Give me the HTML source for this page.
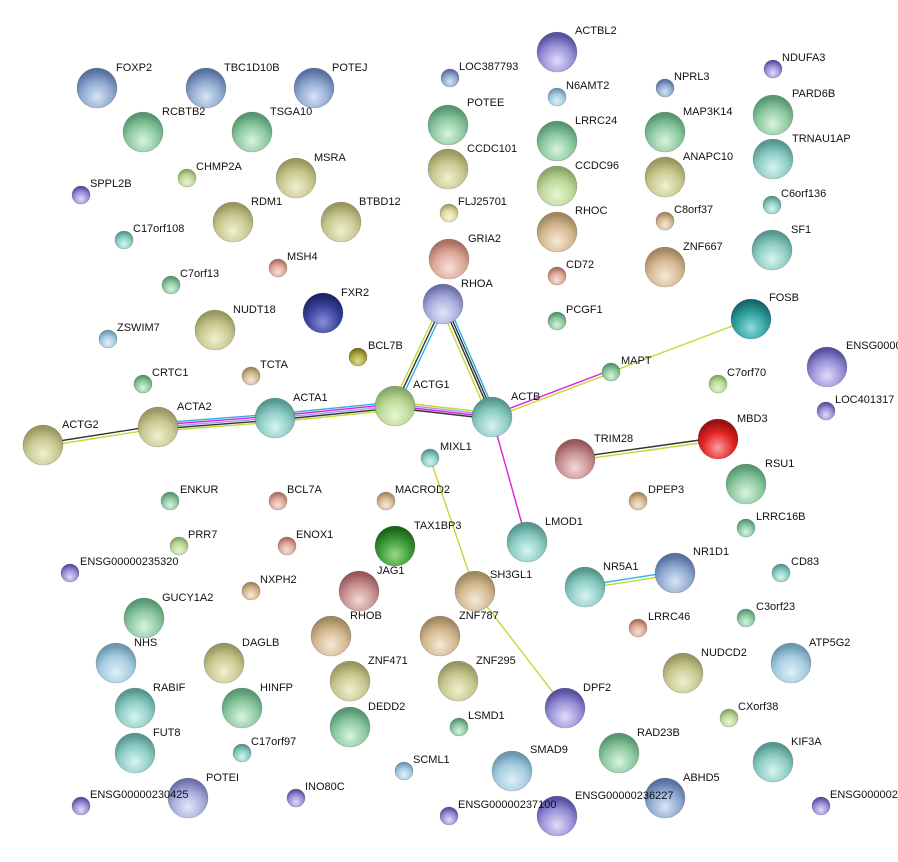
<!DOCTYPE html>
<html><head><meta charset="utf-8"><style>
html,body{margin:0;padding:0;background:#fff}
svg{display:block}
text{font-family:"Liberation Sans",sans-serif;font-size:11px;fill:#111}
</style></head><body>
<svg width="898" height="862" viewBox="0 0 898 862" xmlns="http://www.w3.org/2000/svg">
<defs>
<radialGradient id="gl" cx="0.5" cy="0.15" r="0.6"><stop offset="0" stop-color="#fff" stop-opacity="0.85"/><stop offset="0.6" stop-color="#fff" stop-opacity="0.15"/><stop offset="1" stop-color="#fff" stop-opacity="0"/></radialGradient>
<radialGradient id="blue" cx="0.5" cy="0.72" r="0.65"><stop offset="0" stop-color="#d8e4f4"/><stop offset="0.6" stop-color="#8ea8d0"/><stop offset="1" stop-color="#5670a0"/></radialGradient>
<radialGradient id="green" cx="0.5" cy="0.72" r="0.65"><stop offset="0" stop-color="#d8f4e0"/><stop offset="0.6" stop-color="#8cc8a0"/><stop offset="1" stop-color="#569870"/></radialGradient>
<radialGradient id="teal" cx="0.5" cy="0.72" r="0.65"><stop offset="0" stop-color="#d8f4f0"/><stop offset="0.6" stop-color="#8cccc4"/><stop offset="1" stop-color="#569890"/></radialGradient>
<radialGradient id="olive" cx="0.5" cy="0.72" r="0.65"><stop offset="0" stop-color="#f0f0d0"/><stop offset="0.6" stop-color="#c8c890"/><stop offset="1" stop-color="#989860"/></radialGradient>
<radialGradient id="ygreen" cx="0.5" cy="0.72" r="0.65"><stop offset="0" stop-color="#eaf6d4"/><stop offset="0.6" stop-color="#bcd898"/><stop offset="1" stop-color="#88a868"/></radialGradient>
<radialGradient id="tan" cx="0.5" cy="0.72" r="0.65"><stop offset="0" stop-color="#f6ead8"/><stop offset="0.6" stop-color="#d4b890"/><stop offset="1" stop-color="#a08860"/></radialGradient>
<radialGradient id="salmon" cx="0.5" cy="0.72" r="0.65"><stop offset="0" stop-color="#f8e0d8"/><stop offset="0.6" stop-color="#dca898"/><stop offset="1" stop-color="#a87060"/></radialGradient>
<radialGradient id="rose" cx="0.5" cy="0.72" r="0.65"><stop offset="0" stop-color="#f4d8d8"/><stop offset="0.6" stop-color="#c89090"/><stop offset="1" stop-color="#985858"/></radialGradient>
<radialGradient id="purple" cx="0.5" cy="0.72" r="0.65"><stop offset="0" stop-color="#e0dcf8"/><stop offset="0.6" stop-color="#9890d8"/><stop offset="1" stop-color="#5850a0"/></radialGradient>
<radialGradient id="lav" cx="0.5" cy="0.72" r="0.65"><stop offset="0" stop-color="#e4e6f8"/><stop offset="0.6" stop-color="#a8acdc"/><stop offset="1" stop-color="#6c70a8"/></radialGradient>
<radialGradient id="lblue" cx="0.5" cy="0.72" r="0.65"><stop offset="0" stop-color="#e0f0f8"/><stop offset="0.6" stop-color="#a4cce0"/><stop offset="1" stop-color="#6c98b0"/></radialGradient>
<radialGradient id="dblue" cx="0.5" cy="0.72" r="0.65"><stop offset="0" stop-color="#8890d8"/><stop offset="0.6" stop-color="#3c44a0"/><stop offset="1" stop-color="#1c2468"/></radialGradient>
<radialGradient id="dgreen" cx="0.5" cy="0.72" r="0.65"><stop offset="0" stop-color="#98dc88"/><stop offset="0.6" stop-color="#3c9a38"/><stop offset="1" stop-color="#1c6418"/></radialGradient>
<radialGradient id="dteal" cx="0.5" cy="0.72" r="0.65"><stop offset="0" stop-color="#90dcd8"/><stop offset="0.6" stop-color="#30a0a0"/><stop offset="1" stop-color="#186868"/></radialGradient>
<radialGradient id="red" cx="0.5" cy="0.72" r="0.65"><stop offset="0" stop-color="#ff9c9c"/><stop offset="0.6" stop-color="#e02424"/><stop offset="1" stop-color="#981010"/></radialGradient>
<radialGradient id="dolive" cx="0.5" cy="0.72" r="0.65"><stop offset="0" stop-color="#e0dc98"/><stop offset="0.6" stop-color="#b0a840"/><stop offset="1" stop-color="#787020"/></radialGradient>
<radialGradient id="yel" cx="0.5" cy="0.72" r="0.65"><stop offset="0" stop-color="#f8f4d8"/><stop offset="0.6" stop-color="#e0d8a0"/><stop offset="1" stop-color="#a8a068"/></radialGradient>
</defs>

<!-- edges -->
<g fill="none" stroke-width="1.4">
<line x1="43" y1="443.5" x2="158" y2="425.5" stroke="#333"/>
<line x1="43" y1="446.5" x2="158" y2="428.5" stroke="#c4d830"/>
<g>
<line x1="158" y1="423" x2="275" y2="414" stroke="#2ab4e0"/>
<line x1="158" y1="425" x2="275" y2="416" stroke="#e020d8"/>
<line x1="158" y1="427" x2="275" y2="418" stroke="#a0a0f0"/>
<line x1="158" y1="429" x2="275" y2="420" stroke="#333"/>
<line x1="158" y1="431" x2="275" y2="422" stroke="#c4d830"/>
</g>
<g>
<line x1="275" y1="414" x2="395" y2="402" stroke="#2ab4e0"/>
<line x1="275" y1="416" x2="395" y2="404" stroke="#e020d8"/>
<line x1="275" y1="418" x2="395" y2="406" stroke="#a0a0f0"/>
<line x1="275" y1="420" x2="395" y2="408" stroke="#333"/>
<line x1="275" y1="422" x2="395" y2="410" stroke="#c4d830"/>
</g>
<line x1="395" y1="402" x2="492" y2="413" stroke="#c4d830"/>
<line x1="395" y1="404" x2="492" y2="415" stroke="#a0a0f0"/>
<line x1="395" y1="406" x2="492" y2="417" stroke="#e020d8"/>
<line x1="395" y1="408" x2="492" y2="419" stroke="#333"/>
<line x1="440" y1="304" x2="392" y2="406" stroke="#c4d830"/>
<line x1="443" y1="304" x2="395" y2="406" stroke="#333"/>
<line x1="446" y1="304" x2="398" y2="406" stroke="#2ab4e0"/>
<line x1="440" y1="305" x2="489" y2="418" stroke="#c4d830"/>
<line x1="443" y1="304" x2="492" y2="417" stroke="#333"/>
<line x1="445" y1="303" x2="494" y2="416" stroke="#333"/>
<line x1="447" y1="302" x2="496" y2="415" stroke="#2ab4e0"/>
<line x1="492" y1="415" x2="611" y2="370" stroke="#e020d8"/>
<line x1="492" y1="418" x2="611" y2="373" stroke="#c4d830"/>
<line x1="611" y1="372" x2="751" y2="319" stroke="#c4d830"/>
<line x1="492" y1="417" x2="527" y2="542" stroke="#e020d8"/>
<line x1="575" y1="457.5" x2="718" y2="437.5" stroke="#333"/>
<line x1="575" y1="460.5" x2="718" y2="440.5" stroke="#c4d830"/>
<line x1="585" y1="585.5" x2="675" y2="571.5" stroke="#2ab4e0"/>
<line x1="585" y1="588.5" x2="675" y2="574.5" stroke="#c4d830"/>
<line x1="430" y1="458" x2="475" y2="591" stroke="#c4d830"/>
<line x1="475" y1="591" x2="565" y2="708" stroke="#c4d830"/>
</g>

<!-- nodes -->
<g stroke="rgba(0,0,0,0.25)" stroke-width="0.6">
<circle cx="97" cy="88" r="20" fill="url(#blue)"/>
<circle cx="206" cy="88" r="20" fill="url(#blue)"/>
<circle cx="314" cy="88" r="20" fill="url(#blue)"/>
<circle cx="143" cy="132" r="20" fill="url(#green)"/>
<circle cx="252" cy="132" r="20" fill="url(#green)"/>
<circle cx="187" cy="178" r="9" fill="url(#ygreen)"/>
<circle cx="296" cy="178" r="20" fill="url(#olive)"/>
<circle cx="81" cy="195" r="9" fill="url(#purple)"/>
<circle cx="233" cy="222" r="20" fill="url(#olive)"/>
<circle cx="341" cy="222" r="20" fill="url(#olive)"/>
<circle cx="124" cy="240" r="9" fill="url(#teal)"/>
<circle cx="278" cy="268" r="9" fill="url(#salmon)"/>
<circle cx="171" cy="285" r="9" fill="url(#green)"/>
<circle cx="323" cy="313" r="20" fill="url(#dblue)"/>
<circle cx="215" cy="330" r="20" fill="url(#olive)"/>
<circle cx="108" cy="339" r="9" fill="url(#lblue)"/>
<circle cx="358" cy="357" r="9" fill="url(#dolive)"/>
<circle cx="251" cy="376" r="9" fill="url(#tan)"/>
<circle cx="143" cy="384" r="9" fill="url(#green)"/>
<circle cx="43" cy="445" r="20" fill="url(#olive)"/>
<circle cx="158" cy="427" r="20" fill="url(#olive)"/>
<circle cx="275" cy="418" r="20" fill="url(#teal)"/>
<circle cx="395" cy="406" r="20" fill="url(#ygreen)"/>
<circle cx="492" cy="417" r="20" fill="url(#teal)"/>
<circle cx="443" cy="304" r="20" fill="url(#lav)"/>
<circle cx="449" cy="259" r="20" fill="url(#salmon)"/>
<circle cx="449" cy="213" r="9" fill="url(#yel)"/>
<circle cx="448" cy="169" r="20" fill="url(#olive)"/>
<circle cx="448" cy="125" r="20" fill="url(#green)"/>
<circle cx="450" cy="78" r="9" fill="url(#blue)"/>
<circle cx="557" cy="52" r="20" fill="url(#purple)"/>
<circle cx="557" cy="97" r="9" fill="url(#lblue)"/>
<circle cx="557" cy="141" r="20" fill="url(#green)"/>
<circle cx="557" cy="186" r="20" fill="url(#ygreen)"/>
<circle cx="557" cy="232" r="20" fill="url(#tan)"/>
<circle cx="557" cy="276" r="9" fill="url(#salmon)"/>
<circle cx="557" cy="321" r="9" fill="url(#green)"/>
<circle cx="665" cy="88" r="9" fill="url(#blue)"/>
<circle cx="665" cy="132" r="20" fill="url(#green)"/>
<circle cx="665" cy="177" r="20" fill="url(#olive)"/>
<circle cx="665" cy="221" r="9" fill="url(#tan)"/>
<circle cx="665" cy="267" r="20" fill="url(#tan)"/>
<circle cx="773" cy="69" r="9" fill="url(#purple)"/>
<circle cx="773" cy="115" r="20" fill="url(#green)"/>
<circle cx="773" cy="159" r="20" fill="url(#teal)"/>
<circle cx="772" cy="205" r="9" fill="url(#teal)"/>
<circle cx="772" cy="250" r="20" fill="url(#teal)"/>
<circle cx="751" cy="319" r="20" fill="url(#dteal)"/>
<circle cx="827" cy="367" r="20" fill="url(#purple)"/>
<circle cx="826" cy="411" r="9" fill="url(#purple)"/>
<circle cx="611" cy="372" r="9" fill="url(#green)"/>
<circle cx="718" cy="384" r="9" fill="url(#ygreen)"/>
<circle cx="718" cy="439" r="20" fill="url(#red)"/>
<circle cx="575" cy="459" r="20" fill="url(#rose)"/>
<circle cx="746" cy="484" r="20" fill="url(#green)"/>
<circle cx="746" cy="528" r="9" fill="url(#green)"/>
<circle cx="638" cy="501" r="9" fill="url(#tan)"/>
<circle cx="781" cy="573" r="9" fill="url(#teal)"/>
<circle cx="430" cy="458" r="9" fill="url(#teal)"/>
<circle cx="170" cy="501" r="9" fill="url(#green)"/>
<circle cx="278" cy="501" r="9" fill="url(#salmon)"/>
<circle cx="386" cy="501" r="9" fill="url(#tan)"/>
<circle cx="179" cy="546" r="9" fill="url(#ygreen)"/>
<circle cx="287" cy="546" r="9" fill="url(#salmon)"/>
<circle cx="395" cy="546" r="20" fill="url(#dgreen)"/>
<circle cx="527" cy="542" r="20" fill="url(#teal)"/>
<circle cx="585" cy="587" r="20" fill="url(#teal)"/>
<circle cx="675" cy="573" r="20" fill="url(#blue)"/>
<circle cx="70" cy="573" r="9" fill="url(#purple)"/>
<circle cx="251" cy="591" r="9" fill="url(#tan)"/>
<circle cx="359" cy="591" r="20" fill="url(#rose)"/>
<circle cx="475" cy="591" r="20" fill="url(#tan)"/>
<circle cx="144" cy="618" r="20" fill="url(#green)"/>
<circle cx="638" cy="628" r="9" fill="url(#salmon)"/>
<circle cx="746" cy="618" r="9" fill="url(#green)"/>
<circle cx="331" cy="636" r="20" fill="url(#tan)"/>
<circle cx="440" cy="636" r="20" fill="url(#tan)"/>
<circle cx="116" cy="663" r="20" fill="url(#lblue)"/>
<circle cx="224" cy="663" r="20" fill="url(#olive)"/>
<circle cx="683" cy="673" r="20" fill="url(#olive)"/>
<circle cx="791" cy="663" r="20" fill="url(#lblue)"/>
<circle cx="350" cy="681" r="20" fill="url(#olive)"/>
<circle cx="458" cy="681" r="20" fill="url(#olive)"/>
<circle cx="135" cy="708" r="20" fill="url(#teal)"/>
<circle cx="242" cy="708" r="20" fill="url(#green)"/>
<circle cx="565" cy="708" r="20" fill="url(#purple)"/>
<circle cx="729" cy="718" r="9" fill="url(#ygreen)"/>
<circle cx="350" cy="727" r="20" fill="url(#green)"/>
<circle cx="459" cy="727" r="9" fill="url(#green)"/>
<circle cx="619" cy="753" r="20" fill="url(#green)"/>
<circle cx="773" cy="762" r="20" fill="url(#teal)"/>
<circle cx="135" cy="753" r="20" fill="url(#teal)"/>
<circle cx="242" cy="753" r="9" fill="url(#teal)"/>
<circle cx="404" cy="771" r="9" fill="url(#lblue)"/>
<circle cx="512" cy="771" r="20" fill="url(#lblue)"/>
<circle cx="188" cy="798" r="20" fill="url(#lav)"/>
<circle cx="296" cy="798" r="9" fill="url(#purple)"/>
<circle cx="81" cy="806" r="9" fill="url(#purple)"/>
<circle cx="449" cy="816" r="9" fill="url(#purple)"/>
<circle cx="557" cy="816" r="20" fill="url(#purple)"/>
<circle cx="665" cy="798" r="20" fill="url(#blue)"/>
<circle cx="821" cy="806" r="9" fill="url(#purple)"/>
</g>

<!-- labels -->
<g>
<text x="116" y="71">FOXP2</text><text x="224" y="71">TBC1D10B</text><text x="332" y="71">POTEJ</text>
<text x="162" y="115">RCBTB2</text><text x="270" y="115">TSGA10</text><text x="196" y="170">CHMP2A</text>
<text x="314" y="161">MSRA</text><text x="90" y="187">SPPL2B</text><text x="251" y="205">RDM1</text>
<text x="359" y="205">BTBD12</text><text x="133" y="232">C17orf108</text><text x="287" y="260">MSH4</text>
<text x="180" y="277">C7orf13</text><text x="341" y="296">FXR2</text><text x="233" y="313">NUDT18</text>
<text x="117" y="331">ZSWIM7</text><text x="368" y="349">BCL7B</text><text x="260" y="368">TCTA</text>
<text x="152" y="376">CRTC1</text><text x="62" y="428">ACTG2</text><text x="177" y="410">ACTA2</text>
<text x="293" y="401">ACTA1</text><text x="413" y="388">ACTG1</text><text x="511" y="400">ACTB</text>
<text x="461" y="287">RHOA</text><text x="468" y="242">GRIA2</text><text x="458" y="205">FLJ25701</text>
<text x="467" y="152">CCDC101</text><text x="467" y="106">POTEE</text><text x="459" y="70">LOC387793</text>
<text x="575" y="34">ACTBL2</text><text x="566" y="89">N6AMT2</text><text x="575" y="124">LRRC24</text>
<text x="575" y="169">CCDC96</text><text x="575" y="214">RHOC</text><text x="566" y="268">CD72</text>
<text x="566" y="313">PCGF1</text><text x="674" y="80">NPRL3</text><text x="683" y="115">MAP3K14</text>
<text x="683" y="160">ANAPC10</text><text x="674" y="213">C8orf37</text><text x="683" y="250">ZNF667</text>
<text x="782" y="61">NDUFA3</text><text x="792" y="97">PARD6B</text><text x="792" y="142">TRNAU1AP</text>
<text x="781" y="197">C6orf136</text><text x="791" y="233">SF1</text><text x="769" y="301">FOSB</text>
<text x="846" y="349">ENSG00000</text><text x="835" y="403">LOC401317</text><text x="621" y="364">MAPT</text>
<text x="727" y="376">C7orf70</text><text x="737" y="422">MBD3</text><text x="594" y="442">TRIM28</text>
<text x="765" y="467">RSU1</text><text x="756" y="520">LRRC16B</text><text x="648" y="493">DPEP3</text>
<text x="791" y="565">CD83</text><text x="440" y="450">MIXL1</text><text x="180" y="493">ENKUR</text>
<text x="287" y="493">BCL7A</text><text x="395" y="493">MACROD2</text><text x="188" y="538">PRR7</text>
<text x="296" y="538">ENOX1</text><text x="414" y="529">TAX1BP3</text><text x="545" y="525">LMOD1</text>
<text x="603" y="570">NR5A1</text><text x="693" y="555">NR1D1</text><text x="80" y="565">ENSG00000235320</text>
<text x="260" y="583">NXPH2</text><text x="377" y="574">JAG1</text><text x="490" y="578">SH3GL1</text>
<text x="162" y="601">GUCY1A2</text><text x="648" y="620">LRRC46</text><text x="756" y="610">C3orf23</text>
<text x="350" y="619">RHOB</text><text x="459" y="619">ZNF787</text><text x="134" y="646">NHS</text>
<text x="242" y="646">DAGLB</text><text x="701" y="656">NUDCD2</text><text x="809" y="646">ATP5G2</text>
<text x="368" y="664">ZNF471</text><text x="476" y="664">ZNF295</text><text x="153" y="691">RABIF</text>
<text x="260" y="691">HINFP</text><text x="583" y="691">DPF2</text><text x="738" y="710">CXorf38</text>
<text x="368" y="710">DEDD2</text><text x="468" y="719">LSMD1</text><text x="637" y="736">RAD23B</text>
<text x="791" y="745">KIF3A</text><text x="153" y="736">FUT8</text><text x="251" y="745">C17orf97</text>
<text x="413" y="763">SCML1</text><text x="530" y="753">SMAD9</text><text x="206" y="781">POTEI</text>
<text x="305" y="790">INO80C</text><text x="90" y="798">ENSG00000230425</text><text x="458" y="808">ENSG00000237100</text>
<text x="575" y="799">ENSG00000236227</text><text x="683" y="781">ABHD5</text><text x="830" y="798">ENSG0000023</text>
</g>
</svg>
</body></html>
